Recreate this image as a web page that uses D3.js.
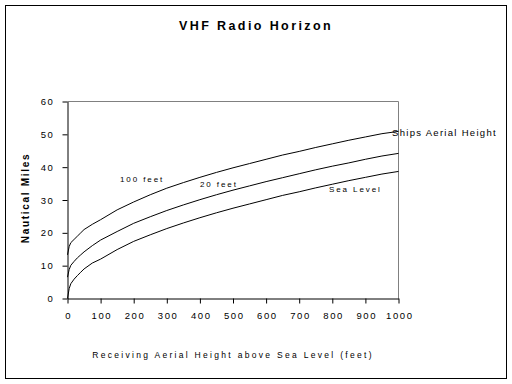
<!DOCTYPE html>
<html><head><meta charset="utf-8">
<script src="https://cdn.jsdelivr.net/npm/d3@7"></script>
<style>
html,body{margin:0;padding:0;background:#fff;}
svg text{font-family:"Liberation Sans",Arial,sans-serif;fill:#000;}
</style></head>
<body><svg id="c" width="512" height="384"></svg>
<script>
const heights = [0, 5, 10, 20, 30, 40, 50, 75, 100, 150, 200, 250, 300, 350, 400, 450, 500, 550, 600, 650, 700, 750, 800, 850, 900, 950, 1000];
const seaLevel = [0, 3.0, 4.5, 5.9, 7.0, 8.0, 9.0, 10.8, 12.0, 14.9, 17.4, 19.4, 21.3, 23.0, 24.6, 26.1, 27.5, 28.8, 30.1, 31.4, 32.5, 33.7, 34.8, 35.9, 36.9, 37.9, 38.7];
const twentyFeet = [6.5, 8.8, 10.1, 11.3, 12.4, 13.3, 14.2, 16.1, 17.8, 20.4, 22.9, 24.9, 26.8, 28.5, 30.1, 31.6, 33.0, 34.3, 35.6, 36.8, 38.0, 39.2, 40.3, 41.3, 42.4, 43.4, 44.2];
const hundredFeet = [13.3, 15.8, 17.0, 18.0, 19.0, 20.0, 21.0, 22.6, 24.0, 27.0, 29.4, 31.6, 33.6, 35.3, 36.9, 38.4, 39.8, 41.1, 42.4, 43.7, 44.8, 46.0, 47.1, 48.2, 49.2, 50.2, 50.9];
const xTicks = [0, 100, 200, 300, 400, 500, 600, 700, 800, 900, 1000];
const yTicks = [0, 10, 20, 30, 40, 50, 60];
const titleText = "VHF Radio Horizon";
const xTitle = "Receiving Aerial Height above Sea Level (feet)";
const yTitle = "Nautical Miles";
const seriesLabels = ["100 feet", "20 feet", "Sea Level"];
const extraLabel = "Ships Aerial Height";

const svg = d3.select("#c");
svg.append("rect").attr("x",5.5).attr("y",5.5).attr("width",501).attr("height",373)
  .attr("fill","none").attr("stroke","#000").attr("stroke-width",1);

const x = d3.scaleLinear().domain([0,1000]).range([67.5,398.5]);
const y = d3.scaleLinear().domain([0,60]).range([298.5,101.5]);

svg.append("path").attr("d",`M${x(0)},${y(60)}H${x(1000)}V${y(0)}`)
  .attr("fill","none").attr("stroke","#808080");

const xAxis = svg.append("g").attr("transform",`translate(0,${y(0)})`)
  .call(d3.axisBottom(x).tickValues(xTicks).tickFormat(d3.format("d")).tickSize(5).tickSizeOuter(0).tickPadding(9));
const yAxis = svg.append("g").attr("transform",`translate(${x(0)},0)`)
  .call(d3.axisLeft(y).tickValues(yTicks).tickFormat(d3.format("d")).tickSize(5).tickSizeOuter(0).tickPadding(8));
[xAxis,yAxis].forEach(g=>{
  g.select(".domain").attr("stroke","#000");
  g.selectAll(".tick line").attr("stroke","#000");
  g.selectAll("text").attr("font-size","9.5px").attr("letter-spacing","1.6px")
   .attr("font-family",'"Liberation Sans",Arial,sans-serif').attr("fill","#000");
});
xAxis.selectAll("text").attr("dx","0.8px");

const line = d3.line().x((d,i)=>x(heights[i])).y(d=>y(d));
[seaLevel, twentyFeet, hundredFeet].forEach(s=>{
  svg.append("path").attr("d",line(s)).attr("fill","none").attr("stroke","#000").attr("stroke-width",1);
});

svg.append("text").attr("x",256).attr("y",30).attr("text-anchor","middle")
  .attr("font-size","12.5px").attr("font-weight","bold").attr("letter-spacing","2.4px").text(titleText);
svg.append("text").attr("x",233).attr("y",358).attr("text-anchor","middle")
  .attr("font-size","8.5px").attr("letter-spacing","2.3px").text(xTitle);
svg.append("text").attr("transform","translate(29,198) rotate(-90)").attr("text-anchor","middle")
  .attr("font-size","10px").attr("font-weight","bold").attr("letter-spacing","1.7px").text(yTitle);

const labPos = [[120,181.5],[200,186.5],[329,191.5]];
seriesLabels.forEach((t,i)=>{
  svg.append("text").attr("x",labPos[i][0]).attr("y",labPos[i][1])
    .attr("font-size","8px").attr("letter-spacing","1.9px").text(t);
});
svg.append("text").attr("x",392).attr("y",136).attr("font-size","9.5px").attr("letter-spacing","1.3px").text(extraLabel);
</script></body></html>
